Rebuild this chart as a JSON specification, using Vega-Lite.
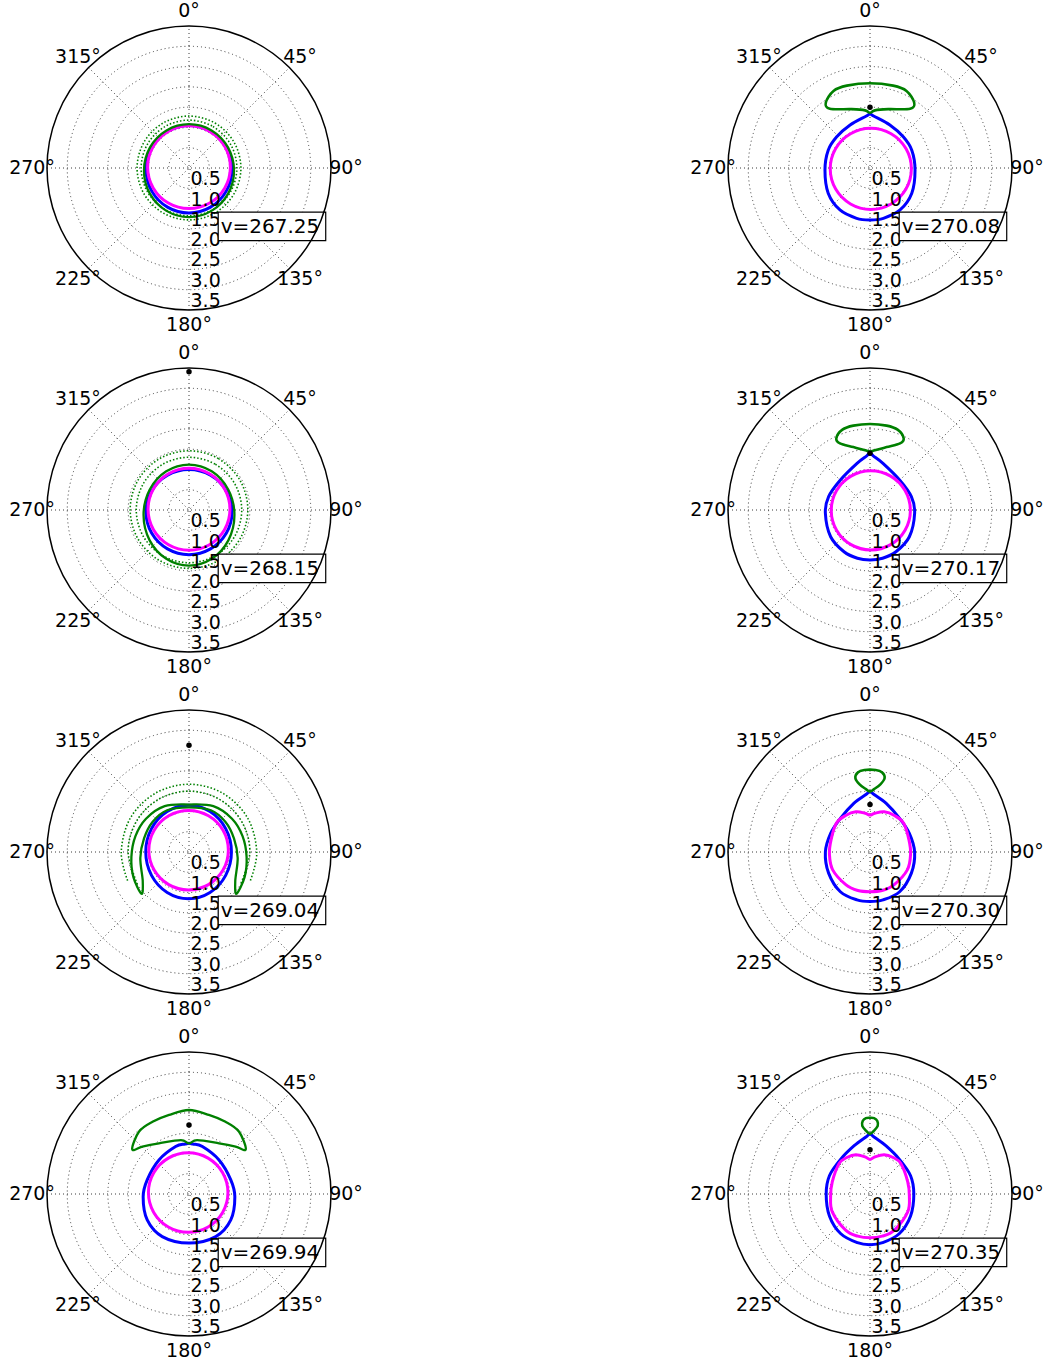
{
"$schema": "https://vega.github.io/schema/vega-lite/v6.json",
"padding": 0,
"background": "white",
"config": {"view": {"stroke": null}, "text": {"font": "DejaVu Sans"}},
"datasets": {
"grid": [{"r":0.5},{"r":1},{"r":1.5},{"r":2},{"r":2.5},{"r":3}],
"outer": [{"r":3.5}],
"spokes": [{"x":0,"y":-3.5,"x2":0,"y2":3.5},{"x":-2.475,"y":-2.475,"x2":2.475,"y2":2.475},{"x":-3.5,"y":0,"x2":3.5,"y2":0},{"x":-2.475,"y":2.475,"x2":2.475,"y2":-2.475}],
"angles": [{"deg":0,"t":"0°"},{"deg":45,"t":"45°"},{"deg":90,"t":"90°"},{"deg":135,"t":"135°"},{"deg":180,"t":"180°"},{"deg":225,"t":"225°"},{"deg":270,"t":"270°"},{"deg":315,"t":"315°"}],
"rlabels": [{"r":0.5,"t":"0.5"},{"r":1,"t":"1.0"},{"r":1.5,"t":"1.5"},{"r":2,"t":"2.0"},{"r":2.5,"t":"2.5"},{"r":3,"t":"3.0"},{"r":3.5,"t":"3.5"}],
"boxes": [{"p":1,"t":"v=267.25"},{"p":2,"t":"v=270.08"},{"p":3,"t":"v=268.15"},{"p":4,"t":"v=270.17"},{"p":5,"t":"v=269.04"},{"p":6,"t":"v=270.30"},{"p":7,"t":"v=269.94"},{"p":8,"t":"v=270.35"}],
"dots": [{"p":2,"x":0,"y":1.5},{"p":3,"x":0,"y":3.41},{"p":4,"x":0,"y":1.4},{"p":5,"x":0,"y":2.63},{"p":6,"x":0,"y":1.17},{"p":7,"x":0,"y":1.7},{"p":8,"x":0,"y":1.09}],
"curves": [
{"p":1,"s":"b","c":"b","i":0,"x":0,"y":1.05},{"p":1,"s":"b","c":"b","i":1,"x":0.53,"y":0.905},{"p":1,"s":"b","c":"b","i":2,"x":0.918,"y":0.51},{"p":1,"s":"b","c":"b","i":3,"x":1.06,"y":-0.03},{"p":1,"s":"b","c":"b","i":4,"x":0.918,"y":-0.57},{"p":1,"s":"b","c":"b","i":5,"x":0.53,"y":-0.965},{"p":1,"s":"b","c":"b","i":6,"x":0,"y":-1.11},{"p":1,"s":"b","c":"b","i":7,"x":-0.53,"y":-0.965},{"p":1,"s":"b","c":"b","i":8,"x":-0.918,"y":-0.57},{"p":1,"s":"b","c":"b","i":9,"x":-1.06,"y":-0.03},{"p":1,"s":"b","c":"b","i":10,"x":-0.918,"y":0.51},{"p":1,"s":"b","c":"b","i":11,"x":-0.53,"y":0.905},
{"p":1,"s":"m","c":"m","i":0,"x":0,"y":1.04},{"p":1,"s":"m","c":"m","i":1,"x":0.51,"y":0.903},{"p":1,"s":"m","c":"m","i":2,"x":0.883,"y":0.53},{"p":1,"s":"m","c":"m","i":3,"x":1.02,"y":0.02},{"p":1,"s":"m","c":"m","i":4,"x":0.883,"y":-0.49},{"p":1,"s":"m","c":"m","i":5,"x":0.51,"y":-0.863},{"p":1,"s":"m","c":"m","i":6,"x":0,"y":-1.0},{"p":1,"s":"m","c":"m","i":7,"x":-0.51,"y":-0.863},{"p":1,"s":"m","c":"m","i":8,"x":-0.883,"y":-0.49},{"p":1,"s":"m","c":"m","i":9,"x":-1.02,"y":0.02},{"p":1,"s":"m","c":"m","i":10,"x":-0.883,"y":0.53},{"p":1,"s":"m","c":"m","i":11,"x":-0.51,"y":0.903},
{"p":1,"s":"g","c":"g","i":0,"x":0,"y":1.08},{"p":1,"s":"g","c":"g","i":1,"x":0.555,"y":0.927},{"p":1,"s":"g","c":"g","i":2,"x":0.961,"y":0.508},{"p":1,"s":"g","c":"g","i":3,"x":1.11,"y":-0.065},{"p":1,"s":"g","c":"g","i":4,"x":0.961,"y":-0.638},{"p":1,"s":"g","c":"g","i":5,"x":0.555,"y":-1.057},{"p":1,"s":"g","c":"g","i":6,"x":0,"y":-1.21},{"p":1,"s":"g","c":"g","i":7,"x":-0.555,"y":-1.057},{"p":1,"s":"g","c":"g","i":8,"x":-0.961,"y":-0.638},{"p":1,"s":"g","c":"g","i":9,"x":-1.11,"y":-0.065},{"p":1,"s":"g","c":"g","i":10,"x":-0.961,"y":0.508},{"p":1,"s":"g","c":"g","i":11,"x":-0.555,"y":0.927},
{"p":1,"s":"d","c":"d1","i":0,"x":0,"y":1.28},{"p":1,"s":"d","c":"d1","i":1,"x":0.64,"y":1.108},{"p":1,"s":"d","c":"d1","i":2,"x":1.108,"y":0.64},{"p":1,"s":"d","c":"d1","i":3,"x":1.28,"y":0},{"p":1,"s":"d","c":"d1","i":4,"x":1.108,"y":-0.64},{"p":1,"s":"d","c":"d1","i":5,"x":0.64,"y":-1.108},{"p":1,"s":"d","c":"d1","i":6,"x":0,"y":-1.28},{"p":1,"s":"d","c":"d1","i":7,"x":-0.64,"y":-1.108},{"p":1,"s":"d","c":"d1","i":8,"x":-1.108,"y":-0.64},{"p":1,"s":"d","c":"d1","i":9,"x":-1.28,"y":0},{"p":1,"s":"d","c":"d1","i":10,"x":-1.108,"y":0.64},{"p":1,"s":"d","c":"d1","i":11,"x":-0.64,"y":1.108},
{"p":1,"s":"d","c":"d2","i":0,"x":0,"y":1.18},{"p":1,"s":"d","c":"d2","i":1,"x":0.59,"y":1.022},{"p":1,"s":"d","c":"d2","i":2,"x":1.022,"y":0.59},{"p":1,"s":"d","c":"d2","i":3,"x":1.18,"y":0},{"p":1,"s":"d","c":"d2","i":4,"x":1.022,"y":-0.59},{"p":1,"s":"d","c":"d2","i":5,"x":0.59,"y":-1.022},{"p":1,"s":"d","c":"d2","i":6,"x":0,"y":-1.18},{"p":1,"s":"d","c":"d2","i":7,"x":-0.59,"y":-1.022},{"p":1,"s":"d","c":"d2","i":8,"x":-1.022,"y":-0.59},{"p":1,"s":"d","c":"d2","i":9,"x":-1.18,"y":0},{"p":1,"s":"d","c":"d2","i":10,"x":-1.022,"y":0.59},{"p":1,"s":"d","c":"d2","i":11,"x":-0.59,"y":1.022},
{"p":2,"s":"b","c":"b","i":0,"x":0,"y":1.33},{"p":2,"s":"b","c":"b","i":1,"x":0.1,"y":1.275},{"p":2,"s":"b","c":"b","i":2,"x":0.49,"y":1.06},{"p":2,"s":"b","c":"b","i":3,"x":0.82,"y":0.77},{"p":2,"s":"b","c":"b","i":4,"x":1.03,"y":0.44},{"p":2,"s":"b","c":"b","i":5,"x":1.11,"y":-0.05},{"p":2,"s":"b","c":"b","i":6,"x":1.03,"y":-0.62},{"p":2,"s":"b","c":"b","i":7,"x":0.74,"y":-1.035},{"p":2,"s":"b","c":"b","i":8,"x":0.33,"y":-1.24},{"p":2,"s":"b","c":"b","i":9,"x":0,"y":-1.28},{"p":2,"s":"b","c":"b","i":10,"x":-0.33,"y":-1.24},{"p":2,"s":"b","c":"b","i":11,"x":-0.74,"y":-1.035},{"p":2,"s":"b","c":"b","i":12,"x":-1.03,"y":-0.62},{"p":2,"s":"b","c":"b","i":13,"x":-1.11,"y":-0.05},{"p":2,"s":"b","c":"b","i":14,"x":-1.03,"y":0.44},{"p":2,"s":"b","c":"b","i":15,"x":-0.82,"y":0.77},{"p":2,"s":"b","c":"b","i":16,"x":-0.49,"y":1.06},{"p":2,"s":"b","c":"b","i":17,"x":-0.1,"y":1.275},
{"p":2,"s":"m","c":"m","i":0,"x":0.02,"y":0.98},{"p":2,"s":"m","c":"m","i":1,"x":0.52,"y":0.846},{"p":2,"s":"m","c":"m","i":2,"x":0.886,"y":0.48},{"p":2,"s":"m","c":"m","i":3,"x":1.02,"y":-0.02},{"p":2,"s":"m","c":"m","i":4,"x":0.886,"y":-0.52},{"p":2,"s":"m","c":"m","i":5,"x":0.52,"y":-0.886},{"p":2,"s":"m","c":"m","i":6,"x":0.02,"y":-1.02},{"p":2,"s":"m","c":"m","i":7,"x":-0.48,"y":-0.886},{"p":2,"s":"m","c":"m","i":8,"x":-0.846,"y":-0.52},{"p":2,"s":"m","c":"m","i":9,"x":-0.98,"y":-0.02},{"p":2,"s":"m","c":"m","i":10,"x":-0.846,"y":0.48},{"p":2,"s":"m","c":"m","i":11,"x":-0.48,"y":0.846},
{"p":2,"s":"g","c":"g","i":0,"x":-1.09,"y":1.61},{"p":2,"s":"g","c":"g","i":1,"x":-0.9,"y":1.9},{"p":2,"s":"g","c":"g","i":2,"x":-0.57,"y":2.03},{"p":2,"s":"g","c":"g","i":3,"x":0,"y":2.09},{"p":2,"s":"g","c":"g","i":4,"x":0.57,"y":2.03},{"p":2,"s":"g","c":"g","i":5,"x":0.9,"y":1.9},{"p":2,"s":"g","c":"g","i":6,"x":1.09,"y":1.61},{"p":2,"s":"g","c":"g","i":7,"x":0.99,"y":1.46},{"p":2,"s":"g","c":"g","i":8,"x":0.45,"y":1.45},{"p":2,"s":"g","c":"g","i":9,"x":0.12,"y":1.42},{"p":2,"s":"g","c":"g","i":10,"x":0,"y":1.36},{"p":2,"s":"g","c":"g","i":11,"x":-0.12,"y":1.42},{"p":2,"s":"g","c":"g","i":12,"x":-0.45,"y":1.45},{"p":2,"s":"g","c":"g","i":13,"x":-0.99,"y":1.46},
{"p":3,"s":"b","c":"b","i":0,"x":0,"y":1.0},{"p":3,"s":"b","c":"b","i":1,"x":0.53,"y":0.859},{"p":3,"s":"b","c":"b","i":2,"x":0.918,"y":0.475},{"p":3,"s":"b","c":"b","i":3,"x":1.06,"y":-0.05},{"p":3,"s":"b","c":"b","i":4,"x":0.918,"y":-0.575},{"p":3,"s":"b","c":"b","i":5,"x":0.53,"y":-0.959},{"p":3,"s":"b","c":"b","i":6,"x":0,"y":-1.1},{"p":3,"s":"b","c":"b","i":7,"x":-0.53,"y":-0.959},{"p":3,"s":"b","c":"b","i":8,"x":-0.918,"y":-0.575},{"p":3,"s":"b","c":"b","i":9,"x":-1.06,"y":-0.05},{"p":3,"s":"b","c":"b","i":10,"x":-0.918,"y":0.475},{"p":3,"s":"b","c":"b","i":11,"x":-0.53,"y":0.859},
{"p":3,"s":"m","c":"m","i":0,"x":0,"y":1.03},{"p":3,"s":"m","c":"m","i":1,"x":0.505,"y":0.895},{"p":3,"s":"m","c":"m","i":2,"x":0.875,"y":0.525},{"p":3,"s":"m","c":"m","i":3,"x":1.01,"y":0.02},{"p":3,"s":"m","c":"m","i":4,"x":0.875,"y":-0.485},{"p":3,"s":"m","c":"m","i":5,"x":0.505,"y":-0.855},{"p":3,"s":"m","c":"m","i":6,"x":0,"y":-0.99},{"p":3,"s":"m","c":"m","i":7,"x":-0.505,"y":-0.855},{"p":3,"s":"m","c":"m","i":8,"x":-0.875,"y":-0.485},{"p":3,"s":"m","c":"m","i":9,"x":-1.01,"y":0.02},{"p":3,"s":"m","c":"m","i":10,"x":-0.875,"y":0.525},{"p":3,"s":"m","c":"m","i":11,"x":-0.505,"y":0.895},
{"p":3,"s":"g","c":"g","i":0,"x":0,"y":1.12},{"p":3,"s":"g","c":"g","i":1,"x":0.56,"y":0.953},{"p":3,"s":"g","c":"g","i":2,"x":0.97,"y":0.498},{"p":3,"s":"g","c":"g","i":3,"x":1.12,"y":-0.125},{"p":3,"s":"g","c":"g","i":4,"x":0.97,"y":-0.748},{"p":3,"s":"g","c":"g","i":5,"x":0.56,"y":-1.203},{"p":3,"s":"g","c":"g","i":6,"x":0,"y":-1.37},{"p":3,"s":"g","c":"g","i":7,"x":-0.56,"y":-1.203},{"p":3,"s":"g","c":"g","i":8,"x":-0.97,"y":-0.748},{"p":3,"s":"g","c":"g","i":9,"x":-1.12,"y":-0.125},{"p":3,"s":"g","c":"g","i":10,"x":-0.97,"y":0.498},{"p":3,"s":"g","c":"g","i":11,"x":-0.56,"y":0.953},
{"p":3,"s":"d","c":"d1","i":0,"x":0,"y":1.46},{"p":3,"s":"d","c":"d1","i":1,"x":0.725,"y":1.266},{"p":3,"s":"d","c":"d1","i":2,"x":1.256,"y":0.735},{"p":3,"s":"d","c":"d1","i":3,"x":1.45,"y":0.01},{"p":3,"s":"d","c":"d1","i":4,"x":1.256,"y":-0.715},{"p":3,"s":"d","c":"d1","i":5,"x":0.725,"y":-1.246},{"p":3,"s":"d","c":"d1","i":6,"x":0,"y":-1.44},{"p":3,"s":"d","c":"d1","i":7,"x":-0.725,"y":-1.246},{"p":3,"s":"d","c":"d1","i":8,"x":-1.256,"y":-0.715},{"p":3,"s":"d","c":"d1","i":9,"x":-1.45,"y":0.01},{"p":3,"s":"d","c":"d1","i":10,"x":-1.256,"y":0.735},{"p":3,"s":"d","c":"d1","i":11,"x":-0.725,"y":1.266},
{"p":3,"s":"d","c":"d2","i":0,"x":0,"y":1.3},{"p":3,"s":"d","c":"d2","i":1,"x":0.65,"y":1.126},{"p":3,"s":"d","c":"d2","i":2,"x":1.126,"y":0.65},{"p":3,"s":"d","c":"d2","i":3,"x":1.3,"y":0},{"p":3,"s":"d","c":"d2","i":4,"x":1.126,"y":-0.65},{"p":3,"s":"d","c":"d2","i":5,"x":0.65,"y":-1.126},{"p":3,"s":"d","c":"d2","i":6,"x":0,"y":-1.3},{"p":3,"s":"d","c":"d2","i":7,"x":-0.65,"y":-1.126},{"p":3,"s":"d","c":"d2","i":8,"x":-1.126,"y":-0.65},{"p":3,"s":"d","c":"d2","i":9,"x":-1.3,"y":0},{"p":3,"s":"d","c":"d2","i":10,"x":-1.126,"y":0.65},{"p":3,"s":"d","c":"d2","i":11,"x":-0.65,"y":1.126},
{"p":4,"s":"b","c":"b","i":0,"x":0,"y":1.4},{"p":4,"s":"b","c":"b","i":1,"x":0.08,"y":1.335},{"p":4,"s":"b","c":"b","i":2,"x":0.32,"y":1.15},{"p":4,"s":"b","c":"b","i":3,"x":0.73,"y":0.74},{"p":4,"s":"b","c":"b","i":4,"x":1.02,"y":0.33},{"p":4,"s":"b","c":"b","i":5,"x":1.1,"y":-0.08},{"p":4,"s":"b","c":"b","i":6,"x":0.97,"y":-0.66},{"p":4,"s":"b","c":"b","i":7,"x":0.64,"y":-1.03},{"p":4,"s":"b","c":"b","i":8,"x":0.31,"y":-1.19},{"p":4,"s":"b","c":"b","i":9,"x":0,"y":-1.23},{"p":4,"s":"b","c":"b","i":10,"x":-0.31,"y":-1.19},{"p":4,"s":"b","c":"b","i":11,"x":-0.64,"y":-1.03},{"p":4,"s":"b","c":"b","i":12,"x":-0.97,"y":-0.66},{"p":4,"s":"b","c":"b","i":13,"x":-1.1,"y":-0.08},{"p":4,"s":"b","c":"b","i":14,"x":-1.02,"y":0.33},{"p":4,"s":"b","c":"b","i":15,"x":-0.73,"y":0.74},{"p":4,"s":"b","c":"b","i":16,"x":-0.32,"y":1.15},{"p":4,"s":"b","c":"b","i":17,"x":-0.08,"y":1.335},
{"p":4,"s":"m","c":"m","i":0,"x":0.02,"y":0.965},{"p":4,"s":"m","c":"m","i":1,"x":0.508,"y":0.834},{"p":4,"s":"m","c":"m","i":2,"x":0.864,"y":0.478},{"p":4,"s":"m","c":"m","i":3,"x":0.995,"y":-0.01},{"p":4,"s":"m","c":"m","i":4,"x":0.864,"y":-0.498},{"p":4,"s":"m","c":"m","i":5,"x":0.508,"y":-0.854},{"p":4,"s":"m","c":"m","i":6,"x":0.02,"y":-0.985},{"p":4,"s":"m","c":"m","i":7,"x":-0.468,"y":-0.854},{"p":4,"s":"m","c":"m","i":8,"x":-0.824,"y":-0.498},{"p":4,"s":"m","c":"m","i":9,"x":-0.955,"y":-0.01},{"p":4,"s":"m","c":"m","i":10,"x":-0.824,"y":0.478},{"p":4,"s":"m","c":"m","i":11,"x":-0.468,"y":0.834},
{"p":4,"s":"g","c":"g","i":0,"x":-0.83,"y":1.77},{"p":4,"s":"g","c":"g","i":1,"x":-0.68,"y":1.98},{"p":4,"s":"g","c":"g","i":2,"x":-0.41,"y":2.08},{"p":4,"s":"g","c":"g","i":3,"x":0,"y":2.12},{"p":4,"s":"g","c":"g","i":4,"x":0.41,"y":2.08},{"p":4,"s":"g","c":"g","i":5,"x":0.68,"y":1.98},{"p":4,"s":"g","c":"g","i":6,"x":0.83,"y":1.77},{"p":4,"s":"g","c":"g","i":7,"x":0.74,"y":1.64},{"p":4,"s":"g","c":"g","i":8,"x":0.41,"y":1.55},{"p":4,"s":"g","c":"g","i":9,"x":0.12,"y":1.47},{"p":4,"s":"g","c":"g","i":10,"x":0,"y":1.44},{"p":4,"s":"g","c":"g","i":11,"x":-0.12,"y":1.47},{"p":4,"s":"g","c":"g","i":12,"x":-0.41,"y":1.55},{"p":4,"s":"g","c":"g","i":13,"x":-0.74,"y":1.64},
{"p":5,"s":"b","c":"b","i":0,"x":-0.01,"y":1.15},{"p":5,"s":"b","c":"b","i":1,"x":0.518,"y":0.996},{"p":5,"s":"b","c":"b","i":2,"x":0.904,"y":0.575},{"p":5,"s":"b","c":"b","i":3,"x":1.046,"y":0},{"p":5,"s":"b","c":"b","i":4,"x":0.904,"y":-0.575},{"p":5,"s":"b","c":"b","i":5,"x":0.518,"y":-0.996},{"p":5,"s":"b","c":"b","i":6,"x":-0.01,"y":-1.15},{"p":5,"s":"b","c":"b","i":7,"x":-0.538,"y":-0.996},{"p":5,"s":"b","c":"b","i":8,"x":-0.924,"y":-0.575},{"p":5,"s":"b","c":"b","i":9,"x":-1.066,"y":0},{"p":5,"s":"b","c":"b","i":10,"x":-0.924,"y":0.575},{"p":5,"s":"b","c":"b","i":11,"x":-0.538,"y":0.996},
{"p":5,"s":"m","c":"m","i":0,"x":-0.01,"y":1.025},{"p":5,"s":"m","c":"m","i":1,"x":0.48,"y":0.894},{"p":5,"s":"m","c":"m","i":2,"x":0.839,"y":0.535},{"p":5,"s":"m","c":"m","i":3,"x":0.97,"y":0.045},{"p":5,"s":"m","c":"m","i":4,"x":0.839,"y":-0.445},{"p":5,"s":"m","c":"m","i":5,"x":0.48,"y":-0.804},{"p":5,"s":"m","c":"m","i":6,"x":-0.01,"y":-0.935},{"p":5,"s":"m","c":"m","i":7,"x":-0.5,"y":-0.804},{"p":5,"s":"m","c":"m","i":8,"x":-0.859,"y":-0.445},{"p":5,"s":"m","c":"m","i":9,"x":-0.99,"y":0.045},{"p":5,"s":"m","c":"m","i":10,"x":-0.859,"y":0.535},{"p":5,"s":"m","c":"m","i":11,"x":-0.5,"y":0.894},
{"p":5,"s":"g","c":"g","i":0,"x":-1.17,"y":-1.03},{"p":5,"s":"g","c":"g","i":1,"x":-1.37,"y":-0.62},{"p":5,"s":"g","c":"g","i":2,"x":-1.42,"y":-0.12},{"p":5,"s":"g","c":"g","i":3,"x":-1.32,"y":0.39},{"p":5,"s":"g","c":"g","i":4,"x":-1.06,"y":0.82},{"p":5,"s":"g","c":"g","i":5,"x":-0.6,"y":1.13},{"p":5,"s":"g","c":"g","i":6,"x":0,"y":1.17},{"p":5,"s":"g","c":"g","i":7,"x":0.6,"y":1.13},{"p":5,"s":"g","c":"g","i":8,"x":1.06,"y":0.82},{"p":5,"s":"g","c":"g","i":9,"x":1.32,"y":0.39},{"p":5,"s":"g","c":"g","i":10,"x":1.42,"y":-0.12},{"p":5,"s":"g","c":"g","i":11,"x":1.37,"y":-0.62},{"p":5,"s":"g","c":"g","i":12,"x":1.17,"y":-1.03},{"p":5,"s":"g","c":"g","i":13,"x":1.14,"y":-0.72},{"p":5,"s":"g","c":"g","i":14,"x":1.2,"y":-0.15},{"p":5,"s":"g","c":"g","i":15,"x":1.11,"y":0.33},{"p":5,"s":"g","c":"g","i":16,"x":0.9,"y":0.74},{"p":5,"s":"g","c":"g","i":17,"x":0.54,"y":1.03},{"p":5,"s":"g","c":"g","i":18,"x":0,"y":1.1},{"p":5,"s":"g","c":"g","i":19,"x":-0.54,"y":1.03},{"p":5,"s":"g","c":"g","i":20,"x":-0.9,"y":0.74},{"p":5,"s":"g","c":"g","i":21,"x":-1.11,"y":0.33},{"p":5,"s":"g","c":"g","i":22,"x":-1.2,"y":-0.15},{"p":5,"s":"g","c":"g","i":23,"x":-1.14,"y":-0.72},
{"p":5,"s":"a","c":"a1","i":0,"x":-1.513,"y":-0.706},{"p":5,"s":"a","c":"a1","i":1,"x":-1.67,"y":0},{"p":5,"s":"a","c":"a1","i":2,"x":-1.446,"y":0.835},{"p":5,"s":"a","c":"a1","i":3,"x":-0.835,"y":1.446},{"p":5,"s":"a","c":"a1","i":4,"x":0,"y":1.67},{"p":5,"s":"a","c":"a1","i":5,"x":0.835,"y":1.446},{"p":5,"s":"a","c":"a1","i":6,"x":1.446,"y":0.835},{"p":5,"s":"a","c":"a1","i":7,"x":1.67,"y":0},{"p":5,"s":"a","c":"a1","i":8,"x":1.513,"y":-0.706},
{"p":5,"s":"a","c":"a2","i":0,"x":-1.272,"y":-0.795},{"p":5,"s":"a","c":"a2","i":1,"x":-1.5,"y":0},{"p":5,"s":"a","c":"a2","i":2,"x":-1.299,"y":0.75},{"p":5,"s":"a","c":"a2","i":3,"x":-0.75,"y":1.299},{"p":5,"s":"a","c":"a2","i":4,"x":0,"y":1.5},{"p":5,"s":"a","c":"a2","i":5,"x":0.75,"y":1.299},{"p":5,"s":"a","c":"a2","i":6,"x":1.299,"y":0.75},{"p":5,"s":"a","c":"a2","i":7,"x":1.5,"y":0},{"p":5,"s":"a","c":"a2","i":8,"x":1.272,"y":-0.795},
{"p":6,"s":"b","c":"b","i":0,"x":0,"y":1.49},{"p":6,"s":"b","c":"b","i":1,"x":0.1,"y":1.417},{"p":6,"s":"b","c":"b","i":2,"x":0.4,"y":1.2},{"p":6,"s":"b","c":"b","i":3,"x":0.73,"y":0.83},{"p":6,"s":"b","c":"b","i":4,"x":0.97,"y":0.46},{"p":6,"s":"b","c":"b","i":5,"x":1.1,"y":0},{"p":6,"s":"b","c":"b","i":6,"x":1.02,"y":-0.52},{"p":6,"s":"b","c":"b","i":7,"x":0.73,"y":-0.98},{"p":6,"s":"b","c":"b","i":8,"x":0.32,"y":-1.18},{"p":6,"s":"b","c":"b","i":9,"x":0,"y":-1.22},{"p":6,"s":"b","c":"b","i":10,"x":-0.32,"y":-1.18},{"p":6,"s":"b","c":"b","i":11,"x":-0.73,"y":-0.98},{"p":6,"s":"b","c":"b","i":12,"x":-1.02,"y":-0.52},{"p":6,"s":"b","c":"b","i":13,"x":-1.1,"y":0},{"p":6,"s":"b","c":"b","i":14,"x":-0.97,"y":0.46},{"p":6,"s":"b","c":"b","i":15,"x":-0.73,"y":0.83},{"p":6,"s":"b","c":"b","i":16,"x":-0.4,"y":1.2},{"p":6,"s":"b","c":"b","i":17,"x":-0.1,"y":1.417},
{"p":6,"s":"m","c":"m","i":0,"x":0,"y":0.91},{"p":6,"s":"m","c":"m","i":1,"x":0.12,"y":0.955},{"p":6,"s":"m","c":"m","i":2,"x":0.35,"y":0.99},{"p":6,"s":"m","c":"m","i":3,"x":0.6,"y":0.9},{"p":6,"s":"m","c":"m","i":4,"x":0.83,"y":0.71},{"p":6,"s":"m","c":"m","i":5,"x":0.96,"y":0.3},{"p":6,"s":"m","c":"m","i":6,"x":1.0,"y":-0.05},{"p":6,"s":"m","c":"m","i":7,"x":0.92,"y":-0.44},{"p":6,"s":"m","c":"m","i":8,"x":0.59,"y":-0.81},{"p":6,"s":"m","c":"m","i":9,"x":0.3,"y":-0.95},{"p":6,"s":"m","c":"m","i":10,"x":0,"y":-0.98},{"p":6,"s":"m","c":"m","i":11,"x":-0.3,"y":-0.95},{"p":6,"s":"m","c":"m","i":12,"x":-0.59,"y":-0.81},{"p":6,"s":"m","c":"m","i":13,"x":-0.92,"y":-0.44},{"p":6,"s":"m","c":"m","i":14,"x":-1.0,"y":-0.05},{"p":6,"s":"m","c":"m","i":15,"x":-0.96,"y":0.3},{"p":6,"s":"m","c":"m","i":16,"x":-0.83,"y":0.71},{"p":6,"s":"m","c":"m","i":17,"x":-0.6,"y":0.9},{"p":6,"s":"m","c":"m","i":18,"x":-0.35,"y":0.99},{"p":6,"s":"m","c":"m","i":19,"x":-0.12,"y":0.955},
{"p":6,"s":"g","c":"g","i":0,"x":0,"y":1.49},{"p":6,"s":"g","c":"g","i":1,"x":0.1,"y":1.55},{"p":6,"s":"g","c":"g","i":2,"x":0.25,"y":1.66},{"p":6,"s":"g","c":"g","i":3,"x":0.36,"y":1.82},{"p":6,"s":"g","c":"g","i":4,"x":0.3,"y":1.96},{"p":6,"s":"g","c":"g","i":5,"x":0.14,"y":2.02},{"p":6,"s":"g","c":"g","i":6,"x":-0.14,"y":2.02},{"p":6,"s":"g","c":"g","i":7,"x":-0.3,"y":1.96},{"p":6,"s":"g","c":"g","i":8,"x":-0.36,"y":1.82},{"p":6,"s":"g","c":"g","i":9,"x":-0.25,"y":1.66},{"p":6,"s":"g","c":"g","i":10,"x":-0.1,"y":1.55},
{"p":7,"s":"b","c":"b","i":0,"x":0,"y":1.25},{"p":7,"s":"b","c":"b","i":1,"x":0.1,"y":1.23},{"p":7,"s":"b","c":"b","i":2,"x":0.33,"y":1.17},{"p":7,"s":"b","c":"b","i":3,"x":0.74,"y":0.84},{"p":7,"s":"b","c":"b","i":4,"x":1.03,"y":0.35},{"p":7,"s":"b","c":"b","i":5,"x":1.13,"y":-0.07},{"p":7,"s":"b","c":"b","i":6,"x":1.03,"y":-0.64},{"p":7,"s":"b","c":"b","i":7,"x":0.66,"y":-1.05},{"p":7,"s":"b","c":"b","i":8,"x":0,"y":-1.21},{"p":7,"s":"b","c":"b","i":9,"x":-0.66,"y":-1.05},{"p":7,"s":"b","c":"b","i":10,"x":-1.03,"y":-0.64},{"p":7,"s":"b","c":"b","i":11,"x":-1.13,"y":-0.07},{"p":7,"s":"b","c":"b","i":12,"x":-1.03,"y":0.35},{"p":7,"s":"b","c":"b","i":13,"x":-0.74,"y":0.84},{"p":7,"s":"b","c":"b","i":14,"x":-0.33,"y":1.17},{"p":7,"s":"b","c":"b","i":15,"x":-0.1,"y":1.23},
{"p":7,"s":"m","c":"m","i":0,"x":-0.02,"y":1.015},{"p":7,"s":"m","c":"m","i":1,"x":0.47,"y":0.884},{"p":7,"s":"m","c":"m","i":2,"x":0.829,"y":0.525},{"p":7,"s":"m","c":"m","i":3,"x":0.96,"y":0.035},{"p":7,"s":"m","c":"m","i":4,"x":0.829,"y":-0.455},{"p":7,"s":"m","c":"m","i":5,"x":0.47,"y":-0.814},{"p":7,"s":"m","c":"m","i":6,"x":-0.02,"y":-0.945},{"p":7,"s":"m","c":"m","i":7,"x":-0.51,"y":-0.814},{"p":7,"s":"m","c":"m","i":8,"x":-0.869,"y":-0.455},{"p":7,"s":"m","c":"m","i":9,"x":-1.0,"y":0.035},{"p":7,"s":"m","c":"m","i":10,"x":-0.869,"y":0.525},{"p":7,"s":"m","c":"m","i":11,"x":-0.51,"y":0.884},
{"p":7,"s":"g","c":"g","i":0,"x":-1.4,"y":1.1},{"p":7,"s":"g","c":"g","i":1,"x":-1.23,"y":1.54},{"p":7,"s":"g","c":"g","i":2,"x":-0.9,"y":1.78},{"p":7,"s":"g","c":"g","i":3,"x":-0.49,"y":1.95},{"p":7,"s":"g","c":"g","i":4,"x":0,"y":2.07},{"p":7,"s":"g","c":"g","i":5,"x":0.49,"y":1.95},{"p":7,"s":"g","c":"g","i":6,"x":0.9,"y":1.78},{"p":7,"s":"g","c":"g","i":7,"x":1.23,"y":1.54},{"p":7,"s":"g","c":"g","i":8,"x":1.4,"y":1.1},{"p":7,"s":"g","c":"g","i":9,"x":1.15,"y":1.17},{"p":7,"s":"g","c":"g","i":10,"x":0.74,"y":1.25},{"p":7,"s":"g","c":"g","i":11,"x":0.2,"y":1.33},{"p":7,"s":"g","c":"g","i":12,"x":0,"y":1.25},{"p":7,"s":"g","c":"g","i":13,"x":-0.2,"y":1.33},{"p":7,"s":"g","c":"g","i":14,"x":-0.74,"y":1.25},{"p":7,"s":"g","c":"g","i":15,"x":-1.15,"y":1.17},
{"p":8,"s":"b","c":"b","i":0,"x":0,"y":1.48},{"p":8,"s":"b","c":"b","i":1,"x":0.1,"y":1.405},{"p":8,"s":"b","c":"b","i":2,"x":0.39,"y":1.19},{"p":8,"s":"b","c":"b","i":3,"x":0.72,"y":0.86},{"p":8,"s":"b","c":"b","i":4,"x":1.0,"y":0.45},{"p":8,"s":"b","c":"b","i":5,"x":1.08,"y":0},{"p":8,"s":"b","c":"b","i":6,"x":1.0,"y":-0.54},{"p":8,"s":"b","c":"b","i":7,"x":0.72,"y":-0.98},{"p":8,"s":"b","c":"b","i":8,"x":0.31,"y":-1.2},{"p":8,"s":"b","c":"b","i":9,"x":0,"y":-1.25},{"p":8,"s":"b","c":"b","i":10,"x":-0.31,"y":-1.2},{"p":8,"s":"b","c":"b","i":11,"x":-0.72,"y":-0.98},{"p":8,"s":"b","c":"b","i":12,"x":-1.0,"y":-0.54},{"p":8,"s":"b","c":"b","i":13,"x":-1.08,"y":0},{"p":8,"s":"b","c":"b","i":14,"x":-1.0,"y":0.45},{"p":8,"s":"b","c":"b","i":15,"x":-0.72,"y":0.86},{"p":8,"s":"b","c":"b","i":16,"x":-0.39,"y":1.19},{"p":8,"s":"b","c":"b","i":17,"x":-0.1,"y":1.405},
{"p":8,"s":"m","c":"m","i":0,"x":0,"y":0.85},{"p":8,"s":"m","c":"m","i":1,"x":0.12,"y":0.915},{"p":8,"s":"m","c":"m","i":2,"x":0.35,"y":0.97},{"p":8,"s":"m","c":"m","i":3,"x":0.57,"y":0.9},{"p":8,"s":"m","c":"m","i":4,"x":0.76,"y":0.75},{"p":8,"s":"m","c":"m","i":5,"x":0.93,"y":0.3},{"p":8,"s":"m","c":"m","i":6,"x":0.97,"y":-0.05},{"p":8,"s":"m","c":"m","i":7,"x":0.93,"y":-0.44},{"p":8,"s":"m","c":"m","i":8,"x":0.6,"y":-0.89},{"p":8,"s":"m","c":"m","i":9,"x":0.3,"y":-1.04},{"p":8,"s":"m","c":"m","i":10,"x":0,"y":-1.08},{"p":8,"s":"m","c":"m","i":11,"x":-0.3,"y":-1.04},{"p":8,"s":"m","c":"m","i":12,"x":-0.6,"y":-0.89},{"p":8,"s":"m","c":"m","i":13,"x":-0.93,"y":-0.44},{"p":8,"s":"m","c":"m","i":14,"x":-0.97,"y":-0.05},{"p":8,"s":"m","c":"m","i":15,"x":-0.93,"y":0.3},{"p":8,"s":"m","c":"m","i":16,"x":-0.76,"y":0.75},{"p":8,"s":"m","c":"m","i":17,"x":-0.57,"y":0.9},{"p":8,"s":"m","c":"m","i":18,"x":-0.35,"y":0.97},{"p":8,"s":"m","c":"m","i":19,"x":-0.12,"y":0.915},
{"p":8,"s":"g","c":"g","i":0,"x":0,"y":1.48},{"p":8,"s":"g","c":"g","i":1,"x":0.1,"y":1.56},{"p":8,"s":"g","c":"g","i":2,"x":0.19,"y":1.68},{"p":8,"s":"g","c":"g","i":3,"x":0.18,"y":1.8},{"p":8,"s":"g","c":"g","i":4,"x":0.1,"y":1.87},{"p":8,"s":"g","c":"g","i":5,"x":0,"y":1.88},{"p":8,"s":"g","c":"g","i":6,"x":-0.1,"y":1.87},{"p":8,"s":"g","c":"g","i":7,"x":-0.18,"y":1.8},{"p":8,"s":"g","c":"g","i":8,"x":-0.19,"y":1.68},{"p":8,"s":"g","c":"g","i":9,"x":-0.1,"y":1.56}
]
},
"vconcat": [
{"hconcat": [
{"width":378,"height":336,"layer":[
{"data":{"name":"grid"},"mark":{"type":"arc","filled":false,"stroke":"#3a3a3a","strokeWidth":1,"strokeDash":[1,3]},"encoding":{"theta":{"value":0},"theta2":{"value":6.2832},"radius":{"field":"r","type":"quantitative","stack":null,"scale":{"type":"linear","domain":[0,3.5],"range":[0,142],"zero":true,"nice":false}}}},
{"data":{"name":"spokes"},"mark":{"type":"rule","color":"#3a3a3a","strokeWidth":1,"strokeDash":[1,3]},"encoding":{"x":{"field":"x","type":"quantitative","scale":{"domain":[-4.6585,4.6585],"nice":false,"zero":false},"axis":null},"y":{"field":"y","type":"quantitative","scale":{"domain":[-4.1409,4.1409],"nice":false,"zero":false},"axis":null},"x2":{"field":"x2"},"y2":{"field":"y2"}}},
{"data":{"name":"curves"},"transform":[{"filter":"datum.p==1 && datum.s=='b'"}],"mark":{"type":"line","interpolate":"cardinal-closed","color":"#0000ff","strokeWidth":3},"encoding":{"x":{"field":"x","type":"quantitative","scale":{"domain":[-4.6585,4.6585],"nice":false,"zero":false},"axis":null},"y":{"field":"y","type":"quantitative","scale":{"domain":[-4.1409,4.1409],"nice":false,"zero":false},"axis":null},"order":{"field":"i","type":"quantitative"},"detail":{"field":"c"}}},
{"data":{"name":"curves"},"transform":[{"filter":"datum.p==1 && datum.s=='m'"}],"mark":{"type":"line","interpolate":"cardinal-closed","color":"#ff00ff","strokeWidth":3},"encoding":{"x":{"field":"x","type":"quantitative","scale":{"domain":[-4.6585,4.6585],"nice":false,"zero":false},"axis":null},"y":{"field":"y","type":"quantitative","scale":{"domain":[-4.1409,4.1409],"nice":false,"zero":false},"axis":null},"order":{"field":"i","type":"quantitative"},"detail":{"field":"c"}}},
{"data":{"name":"curves"},"transform":[{"filter":"datum.p==1 && datum.s=='g'"}],"mark":{"type":"line","interpolate":"cardinal-closed","color":"#008000","strokeWidth":2.3},"encoding":{"x":{"field":"x","type":"quantitative","scale":{"domain":[-4.6585,4.6585],"nice":false,"zero":false},"axis":null},"y":{"field":"y","type":"quantitative","scale":{"domain":[-4.1409,4.1409],"nice":false,"zero":false},"axis":null},"order":{"field":"i","type":"quantitative"},"detail":{"field":"c"}}},
{"data":{"name":"curves"},"transform":[{"filter":"datum.p==1 && datum.s=='d'"}],"mark":{"type":"line","interpolate":"cardinal-closed","color":"#008000","strokeWidth":1.6,"strokeDash":[1.5,2]},"encoding":{"x":{"field":"x","type":"quantitative","scale":{"domain":[-4.6585,4.6585],"nice":false,"zero":false},"axis":null},"y":{"field":"y","type":"quantitative","scale":{"domain":[-4.1409,4.1409],"nice":false,"zero":false},"axis":null},"order":{"field":"i","type":"quantitative"},"detail":{"field":"c"}}},
{"data":{"name":"rlabels"},"mark":{"type":"text","align":"left","baseline":"alphabetic","dx":1.5,"dy":-3,"fontSize":19,"color":"black"},"encoding":{"theta":{"value":3.14159},"radius":{"field":"r","type":"quantitative","stack":null,"scale":{"type":"linear","domain":[0,3.5],"range":[0,142],"zero":true,"nice":false}},"text":{"field":"t"}}},
{"data":{"name":"angles"},"mark":{"type":"text","align":"center","baseline":"middle","fontSize":19,"color":"black"},"encoding":{"theta":{"field":"deg","type":"quantitative","stack":null,"scale":{"domain":[0,360],"range":[0,6.28319]}},"radius":{"value":157},"text":{"field":"t"}}},
{"data":{"name":"boxes"},"transform":[{"filter":"datum.p==1"}],"mark":{"type":"rect","fill":"white","stroke":"black","strokeWidth":1.2},"encoding":{"x":{"datum":0.72,"type":"quantitative","scale":{"domain":[-4.6585,4.6585],"nice":false,"zero":false},"axis":null},"x2":{"datum":3.37},"y":{"datum":-1.09,"type":"quantitative","scale":{"domain":[-4.1409,4.1409],"nice":false,"zero":false},"axis":null},"y2":{"datum":-1.79}}},
{"data":{"name":"boxes"},"transform":[{"filter":"datum.p==1"}],"mark":{"type":"text","align":"left","baseline":"alphabetic","fontSize":20,"color":"black"},"encoding":{"x":{"datum":0.78,"type":"quantitative","scale":{"domain":[-4.6585,4.6585],"nice":false,"zero":false},"axis":null},"y":{"datum":-1.595,"type":"quantitative","scale":{"domain":[-4.1409,4.1409],"nice":false,"zero":false},"axis":null},"text":{"field":"t"}}},
{"data":{"name":"outer"},"mark":{"type":"arc","filled":false,"stroke":"black","strokeWidth":1.5},"encoding":{"theta":{"value":0},"theta2":{"value":6.2832},"radius":{"field":"r","type":"quantitative","stack":null,"scale":{"type":"linear","domain":[0,3.5],"range":[0,142],"zero":true,"nice":false}}}}
]},
{"width":356,"height":336,"layer":[
{"data":{"name":"grid"},"mark":{"type":"arc","filled":false,"stroke":"#3a3a3a","strokeWidth":1,"strokeDash":[1,3]},"encoding":{"theta":{"value":0},"theta2":{"value":6.2832},"radius":{"field":"r","type":"quantitative","stack":null,"scale":{"type":"linear","domain":[0,3.5],"range":[0,142],"zero":true,"nice":false}}}},
{"data":{"name":"spokes"},"mark":{"type":"rule","color":"#3a3a3a","strokeWidth":1,"strokeDash":[1,3]},"encoding":{"x":{"field":"x","type":"quantitative","scale":{"domain":[-4.3874,4.3874],"nice":false,"zero":false},"axis":null},"y":{"field":"y","type":"quantitative","scale":{"domain":[-4.1409,4.1409],"nice":false,"zero":false},"axis":null},"x2":{"field":"x2"},"y2":{"field":"y2"}}},
{"data":{"name":"curves"},"transform":[{"filter":"datum.p==2 && datum.s=='b'"}],"mark":{"type":"line","interpolate":"cardinal-closed","color":"#0000ff","strokeWidth":3},"encoding":{"x":{"field":"x","type":"quantitative","scale":{"domain":[-4.3874,4.3874],"nice":false,"zero":false},"axis":null},"y":{"field":"y","type":"quantitative","scale":{"domain":[-4.1409,4.1409],"nice":false,"zero":false},"axis":null},"order":{"field":"i","type":"quantitative"},"detail":{"field":"c"}}},
{"data":{"name":"curves"},"transform":[{"filter":"datum.p==2 && datum.s=='m'"}],"mark":{"type":"line","interpolate":"cardinal-closed","color":"#ff00ff","strokeWidth":3},"encoding":{"x":{"field":"x","type":"quantitative","scale":{"domain":[-4.3874,4.3874],"nice":false,"zero":false},"axis":null},"y":{"field":"y","type":"quantitative","scale":{"domain":[-4.1409,4.1409],"nice":false,"zero":false},"axis":null},"order":{"field":"i","type":"quantitative"},"detail":{"field":"c"}}},
{"data":{"name":"curves"},"transform":[{"filter":"datum.p==2 && datum.s=='g'"}],"mark":{"type":"line","interpolate":"cardinal-closed","color":"#008000","strokeWidth":2.6},"encoding":{"x":{"field":"x","type":"quantitative","scale":{"domain":[-4.3874,4.3874],"nice":false,"zero":false},"axis":null},"y":{"field":"y","type":"quantitative","scale":{"domain":[-4.1409,4.1409],"nice":false,"zero":false},"axis":null},"order":{"field":"i","type":"quantitative"},"detail":{"field":"c"}}},
{"data":{"name":"dots"},"transform":[{"filter":"datum.p==2"}],"mark":{"type":"point","filled":true,"color":"black","opacity":1,"size":30},"encoding":{"x":{"field":"x","type":"quantitative","scale":{"domain":[-4.3874,4.3874],"nice":false,"zero":false},"axis":null},"y":{"field":"y","type":"quantitative","scale":{"domain":[-4.1409,4.1409],"nice":false,"zero":false},"axis":null}}},
{"data":{"name":"rlabels"},"mark":{"type":"text","align":"left","baseline":"alphabetic","dx":1.5,"dy":-3,"fontSize":19,"color":"black"},"encoding":{"theta":{"value":3.14159},"radius":{"field":"r","type":"quantitative","stack":null,"scale":{"type":"linear","domain":[0,3.5],"range":[0,142],"zero":true,"nice":false}},"text":{"field":"t"}}},
{"data":{"name":"angles"},"mark":{"type":"text","align":"center","baseline":"middle","fontSize":19,"color":"black"},"encoding":{"theta":{"field":"deg","type":"quantitative","stack":null,"scale":{"domain":[0,360],"range":[0,6.28319]}},"radius":{"value":157},"text":{"field":"t"}}},
{"data":{"name":"boxes"},"transform":[{"filter":"datum.p==2"}],"mark":{"type":"rect","fill":"white","stroke":"black","strokeWidth":1.2},"encoding":{"x":{"datum":0.72,"type":"quantitative","scale":{"domain":[-4.3874,4.3874],"nice":false,"zero":false},"axis":null},"x2":{"datum":3.37},"y":{"datum":-1.09,"type":"quantitative","scale":{"domain":[-4.1409,4.1409],"nice":false,"zero":false},"axis":null},"y2":{"datum":-1.79}}},
{"data":{"name":"boxes"},"transform":[{"filter":"datum.p==2"}],"mark":{"type":"text","align":"left","baseline":"alphabetic","fontSize":20,"color":"black"},"encoding":{"x":{"datum":0.78,"type":"quantitative","scale":{"domain":[-4.3874,4.3874],"nice":false,"zero":false},"axis":null},"y":{"datum":-1.595,"type":"quantitative","scale":{"domain":[-4.1409,4.1409],"nice":false,"zero":false},"axis":null},"text":{"field":"t"}}},
{"data":{"name":"outer"},"mark":{"type":"arc","filled":false,"stroke":"black","strokeWidth":1.5},"encoding":{"theta":{"value":0},"theta2":{"value":6.2832},"radius":{"field":"r","type":"quantitative","stack":null,"scale":{"type":"linear","domain":[0,3.5],"range":[0,142],"zero":true,"nice":false}}}}
]}
], "spacing": 314, "bounds": "flush"},
{"hconcat": [
{"width":378,"height":336,"layer":[
{"data":{"name":"grid"},"mark":{"type":"arc","filled":false,"stroke":"#3a3a3a","strokeWidth":1,"strokeDash":[1,3]},"encoding":{"theta":{"value":0},"theta2":{"value":6.2832},"radius":{"field":"r","type":"quantitative","stack":null,"scale":{"type":"linear","domain":[0,3.5],"range":[0,142],"zero":true,"nice":false}}}},
{"data":{"name":"spokes"},"mark":{"type":"rule","color":"#3a3a3a","strokeWidth":1,"strokeDash":[1,3]},"encoding":{"x":{"field":"x","type":"quantitative","scale":{"domain":[-4.6585,4.6585],"nice":false,"zero":false},"axis":null},"y":{"field":"y","type":"quantitative","scale":{"domain":[-4.1409,4.1409],"nice":false,"zero":false},"axis":null},"x2":{"field":"x2"},"y2":{"field":"y2"}}},
{"data":{"name":"curves"},"transform":[{"filter":"datum.p==3 && datum.s=='b'"}],"mark":{"type":"line","interpolate":"cardinal-closed","color":"#0000ff","strokeWidth":3},"encoding":{"x":{"field":"x","type":"quantitative","scale":{"domain":[-4.6585,4.6585],"nice":false,"zero":false},"axis":null},"y":{"field":"y","type":"quantitative","scale":{"domain":[-4.1409,4.1409],"nice":false,"zero":false},"axis":null},"order":{"field":"i","type":"quantitative"},"detail":{"field":"c"}}},
{"data":{"name":"curves"},"transform":[{"filter":"datum.p==3 && datum.s=='m'"}],"mark":{"type":"line","interpolate":"cardinal-closed","color":"#ff00ff","strokeWidth":3},"encoding":{"x":{"field":"x","type":"quantitative","scale":{"domain":[-4.6585,4.6585],"nice":false,"zero":false},"axis":null},"y":{"field":"y","type":"quantitative","scale":{"domain":[-4.1409,4.1409],"nice":false,"zero":false},"axis":null},"order":{"field":"i","type":"quantitative"},"detail":{"field":"c"}}},
{"data":{"name":"curves"},"transform":[{"filter":"datum.p==3 && datum.s=='g'"}],"mark":{"type":"line","interpolate":"cardinal-closed","color":"#008000","strokeWidth":2.3},"encoding":{"x":{"field":"x","type":"quantitative","scale":{"domain":[-4.6585,4.6585],"nice":false,"zero":false},"axis":null},"y":{"field":"y","type":"quantitative","scale":{"domain":[-4.1409,4.1409],"nice":false,"zero":false},"axis":null},"order":{"field":"i","type":"quantitative"},"detail":{"field":"c"}}},
{"data":{"name":"curves"},"transform":[{"filter":"datum.p==3 && datum.s=='d'"}],"mark":{"type":"line","interpolate":"cardinal-closed","color":"#008000","strokeWidth":1.6,"strokeDash":[1.5,2]},"encoding":{"x":{"field":"x","type":"quantitative","scale":{"domain":[-4.6585,4.6585],"nice":false,"zero":false},"axis":null},"y":{"field":"y","type":"quantitative","scale":{"domain":[-4.1409,4.1409],"nice":false,"zero":false},"axis":null},"order":{"field":"i","type":"quantitative"},"detail":{"field":"c"}}},
{"data":{"name":"dots"},"transform":[{"filter":"datum.p==3"}],"mark":{"type":"point","filled":true,"color":"black","opacity":1,"size":30},"encoding":{"x":{"field":"x","type":"quantitative","scale":{"domain":[-4.6585,4.6585],"nice":false,"zero":false},"axis":null},"y":{"field":"y","type":"quantitative","scale":{"domain":[-4.1409,4.1409],"nice":false,"zero":false},"axis":null}}},
{"data":{"name":"rlabels"},"mark":{"type":"text","align":"left","baseline":"alphabetic","dx":1.5,"dy":-3,"fontSize":19,"color":"black"},"encoding":{"theta":{"value":3.14159},"radius":{"field":"r","type":"quantitative","stack":null,"scale":{"type":"linear","domain":[0,3.5],"range":[0,142],"zero":true,"nice":false}},"text":{"field":"t"}}},
{"data":{"name":"angles"},"mark":{"type":"text","align":"center","baseline":"middle","fontSize":19,"color":"black"},"encoding":{"theta":{"field":"deg","type":"quantitative","stack":null,"scale":{"domain":[0,360],"range":[0,6.28319]}},"radius":{"value":157},"text":{"field":"t"}}},
{"data":{"name":"boxes"},"transform":[{"filter":"datum.p==3"}],"mark":{"type":"rect","fill":"white","stroke":"black","strokeWidth":1.2},"encoding":{"x":{"datum":0.72,"type":"quantitative","scale":{"domain":[-4.6585,4.6585],"nice":false,"zero":false},"axis":null},"x2":{"datum":3.37},"y":{"datum":-1.09,"type":"quantitative","scale":{"domain":[-4.1409,4.1409],"nice":false,"zero":false},"axis":null},"y2":{"datum":-1.79}}},
{"data":{"name":"boxes"},"transform":[{"filter":"datum.p==3"}],"mark":{"type":"text","align":"left","baseline":"alphabetic","fontSize":20,"color":"black"},"encoding":{"x":{"datum":0.78,"type":"quantitative","scale":{"domain":[-4.6585,4.6585],"nice":false,"zero":false},"axis":null},"y":{"datum":-1.595,"type":"quantitative","scale":{"domain":[-4.1409,4.1409],"nice":false,"zero":false},"axis":null},"text":{"field":"t"}}},
{"data":{"name":"outer"},"mark":{"type":"arc","filled":false,"stroke":"black","strokeWidth":1.5},"encoding":{"theta":{"value":0},"theta2":{"value":6.2832},"radius":{"field":"r","type":"quantitative","stack":null,"scale":{"type":"linear","domain":[0,3.5],"range":[0,142],"zero":true,"nice":false}}}}
]},
{"width":356,"height":336,"layer":[
{"data":{"name":"grid"},"mark":{"type":"arc","filled":false,"stroke":"#3a3a3a","strokeWidth":1,"strokeDash":[1,3]},"encoding":{"theta":{"value":0},"theta2":{"value":6.2832},"radius":{"field":"r","type":"quantitative","stack":null,"scale":{"type":"linear","domain":[0,3.5],"range":[0,142],"zero":true,"nice":false}}}},
{"data":{"name":"spokes"},"mark":{"type":"rule","color":"#3a3a3a","strokeWidth":1,"strokeDash":[1,3]},"encoding":{"x":{"field":"x","type":"quantitative","scale":{"domain":[-4.3874,4.3874],"nice":false,"zero":false},"axis":null},"y":{"field":"y","type":"quantitative","scale":{"domain":[-4.1409,4.1409],"nice":false,"zero":false},"axis":null},"x2":{"field":"x2"},"y2":{"field":"y2"}}},
{"data":{"name":"curves"},"transform":[{"filter":"datum.p==4 && datum.s=='b'"}],"mark":{"type":"line","interpolate":"cardinal-closed","color":"#0000ff","strokeWidth":3},"encoding":{"x":{"field":"x","type":"quantitative","scale":{"domain":[-4.3874,4.3874],"nice":false,"zero":false},"axis":null},"y":{"field":"y","type":"quantitative","scale":{"domain":[-4.1409,4.1409],"nice":false,"zero":false},"axis":null},"order":{"field":"i","type":"quantitative"},"detail":{"field":"c"}}},
{"data":{"name":"curves"},"transform":[{"filter":"datum.p==4 && datum.s=='m'"}],"mark":{"type":"line","interpolate":"cardinal-closed","color":"#ff00ff","strokeWidth":3},"encoding":{"x":{"field":"x","type":"quantitative","scale":{"domain":[-4.3874,4.3874],"nice":false,"zero":false},"axis":null},"y":{"field":"y","type":"quantitative","scale":{"domain":[-4.1409,4.1409],"nice":false,"zero":false},"axis":null},"order":{"field":"i","type":"quantitative"},"detail":{"field":"c"}}},
{"data":{"name":"curves"},"transform":[{"filter":"datum.p==4 && datum.s=='g'"}],"mark":{"type":"line","interpolate":"cardinal-closed","color":"#008000","strokeWidth":2.6},"encoding":{"x":{"field":"x","type":"quantitative","scale":{"domain":[-4.3874,4.3874],"nice":false,"zero":false},"axis":null},"y":{"field":"y","type":"quantitative","scale":{"domain":[-4.1409,4.1409],"nice":false,"zero":false},"axis":null},"order":{"field":"i","type":"quantitative"},"detail":{"field":"c"}}},
{"data":{"name":"dots"},"transform":[{"filter":"datum.p==4"}],"mark":{"type":"point","filled":true,"color":"black","opacity":1,"size":30},"encoding":{"x":{"field":"x","type":"quantitative","scale":{"domain":[-4.3874,4.3874],"nice":false,"zero":false},"axis":null},"y":{"field":"y","type":"quantitative","scale":{"domain":[-4.1409,4.1409],"nice":false,"zero":false},"axis":null}}},
{"data":{"name":"rlabels"},"mark":{"type":"text","align":"left","baseline":"alphabetic","dx":1.5,"dy":-3,"fontSize":19,"color":"black"},"encoding":{"theta":{"value":3.14159},"radius":{"field":"r","type":"quantitative","stack":null,"scale":{"type":"linear","domain":[0,3.5],"range":[0,142],"zero":true,"nice":false}},"text":{"field":"t"}}},
{"data":{"name":"angles"},"mark":{"type":"text","align":"center","baseline":"middle","fontSize":19,"color":"black"},"encoding":{"theta":{"field":"deg","type":"quantitative","stack":null,"scale":{"domain":[0,360],"range":[0,6.28319]}},"radius":{"value":157},"text":{"field":"t"}}},
{"data":{"name":"boxes"},"transform":[{"filter":"datum.p==4"}],"mark":{"type":"rect","fill":"white","stroke":"black","strokeWidth":1.2},"encoding":{"x":{"datum":0.72,"type":"quantitative","scale":{"domain":[-4.3874,4.3874],"nice":false,"zero":false},"axis":null},"x2":{"datum":3.37},"y":{"datum":-1.09,"type":"quantitative","scale":{"domain":[-4.1409,4.1409],"nice":false,"zero":false},"axis":null},"y2":{"datum":-1.79}}},
{"data":{"name":"boxes"},"transform":[{"filter":"datum.p==4"}],"mark":{"type":"text","align":"left","baseline":"alphabetic","fontSize":20,"color":"black"},"encoding":{"x":{"datum":0.78,"type":"quantitative","scale":{"domain":[-4.3874,4.3874],"nice":false,"zero":false},"axis":null},"y":{"datum":-1.595,"type":"quantitative","scale":{"domain":[-4.1409,4.1409],"nice":false,"zero":false},"axis":null},"text":{"field":"t"}}},
{"data":{"name":"outer"},"mark":{"type":"arc","filled":false,"stroke":"black","strokeWidth":1.5},"encoding":{"theta":{"value":0},"theta2":{"value":6.2832},"radius":{"field":"r","type":"quantitative","stack":null,"scale":{"type":"linear","domain":[0,3.5],"range":[0,142],"zero":true,"nice":false}}}}
]}
], "spacing": 314, "bounds": "flush"},
{"hconcat": [
{"width":378,"height":336,"layer":[
{"data":{"name":"grid"},"mark":{"type":"arc","filled":false,"stroke":"#3a3a3a","strokeWidth":1,"strokeDash":[1,3]},"encoding":{"theta":{"value":0},"theta2":{"value":6.2832},"radius":{"field":"r","type":"quantitative","stack":null,"scale":{"type":"linear","domain":[0,3.5],"range":[0,142],"zero":true,"nice":false}}}},
{"data":{"name":"spokes"},"mark":{"type":"rule","color":"#3a3a3a","strokeWidth":1,"strokeDash":[1,3]},"encoding":{"x":{"field":"x","type":"quantitative","scale":{"domain":[-4.6585,4.6585],"nice":false,"zero":false},"axis":null},"y":{"field":"y","type":"quantitative","scale":{"domain":[-4.1409,4.1409],"nice":false,"zero":false},"axis":null},"x2":{"field":"x2"},"y2":{"field":"y2"}}},
{"data":{"name":"curves"},"transform":[{"filter":"datum.p==5 && datum.s=='b'"}],"mark":{"type":"line","interpolate":"cardinal-closed","color":"#0000ff","strokeWidth":3},"encoding":{"x":{"field":"x","type":"quantitative","scale":{"domain":[-4.6585,4.6585],"nice":false,"zero":false},"axis":null},"y":{"field":"y","type":"quantitative","scale":{"domain":[-4.1409,4.1409],"nice":false,"zero":false},"axis":null},"order":{"field":"i","type":"quantitative"},"detail":{"field":"c"}}},
{"data":{"name":"curves"},"transform":[{"filter":"datum.p==5 && datum.s=='m'"}],"mark":{"type":"line","interpolate":"cardinal-closed","color":"#ff00ff","strokeWidth":3},"encoding":{"x":{"field":"x","type":"quantitative","scale":{"domain":[-4.6585,4.6585],"nice":false,"zero":false},"axis":null},"y":{"field":"y","type":"quantitative","scale":{"domain":[-4.1409,4.1409],"nice":false,"zero":false},"axis":null},"order":{"field":"i","type":"quantitative"},"detail":{"field":"c"}}},
{"data":{"name":"curves"},"transform":[{"filter":"datum.p==5 && datum.s=='g'"}],"mark":{"type":"line","interpolate":"cardinal-closed","color":"#008000","strokeWidth":2.3},"encoding":{"x":{"field":"x","type":"quantitative","scale":{"domain":[-4.6585,4.6585],"nice":false,"zero":false},"axis":null},"y":{"field":"y","type":"quantitative","scale":{"domain":[-4.1409,4.1409],"nice":false,"zero":false},"axis":null},"order":{"field":"i","type":"quantitative"},"detail":{"field":"c"}}},
{"data":{"name":"curves"},"transform":[{"filter":"datum.p==5 && datum.s=='a'"}],"mark":{"type":"line","interpolate":"cardinal","color":"#008000","strokeWidth":1.6,"strokeDash":[1.5,2]},"encoding":{"x":{"field":"x","type":"quantitative","scale":{"domain":[-4.6585,4.6585],"nice":false,"zero":false},"axis":null},"y":{"field":"y","type":"quantitative","scale":{"domain":[-4.1409,4.1409],"nice":false,"zero":false},"axis":null},"order":{"field":"i","type":"quantitative"},"detail":{"field":"c"}}},
{"data":{"name":"dots"},"transform":[{"filter":"datum.p==5"}],"mark":{"type":"point","filled":true,"color":"black","opacity":1,"size":30},"encoding":{"x":{"field":"x","type":"quantitative","scale":{"domain":[-4.6585,4.6585],"nice":false,"zero":false},"axis":null},"y":{"field":"y","type":"quantitative","scale":{"domain":[-4.1409,4.1409],"nice":false,"zero":false},"axis":null}}},
{"data":{"name":"rlabels"},"mark":{"type":"text","align":"left","baseline":"alphabetic","dx":1.5,"dy":-3,"fontSize":19,"color":"black"},"encoding":{"theta":{"value":3.14159},"radius":{"field":"r","type":"quantitative","stack":null,"scale":{"type":"linear","domain":[0,3.5],"range":[0,142],"zero":true,"nice":false}},"text":{"field":"t"}}},
{"data":{"name":"angles"},"mark":{"type":"text","align":"center","baseline":"middle","fontSize":19,"color":"black"},"encoding":{"theta":{"field":"deg","type":"quantitative","stack":null,"scale":{"domain":[0,360],"range":[0,6.28319]}},"radius":{"value":157},"text":{"field":"t"}}},
{"data":{"name":"boxes"},"transform":[{"filter":"datum.p==5"}],"mark":{"type":"rect","fill":"white","stroke":"black","strokeWidth":1.2},"encoding":{"x":{"datum":0.72,"type":"quantitative","scale":{"domain":[-4.6585,4.6585],"nice":false,"zero":false},"axis":null},"x2":{"datum":3.37},"y":{"datum":-1.09,"type":"quantitative","scale":{"domain":[-4.1409,4.1409],"nice":false,"zero":false},"axis":null},"y2":{"datum":-1.79}}},
{"data":{"name":"boxes"},"transform":[{"filter":"datum.p==5"}],"mark":{"type":"text","align":"left","baseline":"alphabetic","fontSize":20,"color":"black"},"encoding":{"x":{"datum":0.78,"type":"quantitative","scale":{"domain":[-4.6585,4.6585],"nice":false,"zero":false},"axis":null},"y":{"datum":-1.595,"type":"quantitative","scale":{"domain":[-4.1409,4.1409],"nice":false,"zero":false},"axis":null},"text":{"field":"t"}}},
{"data":{"name":"outer"},"mark":{"type":"arc","filled":false,"stroke":"black","strokeWidth":1.5},"encoding":{"theta":{"value":0},"theta2":{"value":6.2832},"radius":{"field":"r","type":"quantitative","stack":null,"scale":{"type":"linear","domain":[0,3.5],"range":[0,142],"zero":true,"nice":false}}}}
]},
{"width":356,"height":336,"layer":[
{"data":{"name":"grid"},"mark":{"type":"arc","filled":false,"stroke":"#3a3a3a","strokeWidth":1,"strokeDash":[1,3]},"encoding":{"theta":{"value":0},"theta2":{"value":6.2832},"radius":{"field":"r","type":"quantitative","stack":null,"scale":{"type":"linear","domain":[0,3.5],"range":[0,142],"zero":true,"nice":false}}}},
{"data":{"name":"spokes"},"mark":{"type":"rule","color":"#3a3a3a","strokeWidth":1,"strokeDash":[1,3]},"encoding":{"x":{"field":"x","type":"quantitative","scale":{"domain":[-4.3874,4.3874],"nice":false,"zero":false},"axis":null},"y":{"field":"y","type":"quantitative","scale":{"domain":[-4.1409,4.1409],"nice":false,"zero":false},"axis":null},"x2":{"field":"x2"},"y2":{"field":"y2"}}},
{"data":{"name":"curves"},"transform":[{"filter":"datum.p==6 && datum.s=='b'"}],"mark":{"type":"line","interpolate":"cardinal-closed","color":"#0000ff","strokeWidth":3},"encoding":{"x":{"field":"x","type":"quantitative","scale":{"domain":[-4.3874,4.3874],"nice":false,"zero":false},"axis":null},"y":{"field":"y","type":"quantitative","scale":{"domain":[-4.1409,4.1409],"nice":false,"zero":false},"axis":null},"order":{"field":"i","type":"quantitative"},"detail":{"field":"c"}}},
{"data":{"name":"curves"},"transform":[{"filter":"datum.p==6 && datum.s=='m'"}],"mark":{"type":"line","interpolate":"cardinal-closed","color":"#ff00ff","strokeWidth":3},"encoding":{"x":{"field":"x","type":"quantitative","scale":{"domain":[-4.3874,4.3874],"nice":false,"zero":false},"axis":null},"y":{"field":"y","type":"quantitative","scale":{"domain":[-4.1409,4.1409],"nice":false,"zero":false},"axis":null},"order":{"field":"i","type":"quantitative"},"detail":{"field":"c"}}},
{"data":{"name":"curves"},"transform":[{"filter":"datum.p==6 && datum.s=='g'"}],"mark":{"type":"line","interpolate":"cardinal-closed","color":"#008000","strokeWidth":2.6},"encoding":{"x":{"field":"x","type":"quantitative","scale":{"domain":[-4.3874,4.3874],"nice":false,"zero":false},"axis":null},"y":{"field":"y","type":"quantitative","scale":{"domain":[-4.1409,4.1409],"nice":false,"zero":false},"axis":null},"order":{"field":"i","type":"quantitative"},"detail":{"field":"c"}}},
{"data":{"name":"dots"},"transform":[{"filter":"datum.p==6"}],"mark":{"type":"point","filled":true,"color":"black","opacity":1,"size":30},"encoding":{"x":{"field":"x","type":"quantitative","scale":{"domain":[-4.3874,4.3874],"nice":false,"zero":false},"axis":null},"y":{"field":"y","type":"quantitative","scale":{"domain":[-4.1409,4.1409],"nice":false,"zero":false},"axis":null}}},
{"data":{"name":"rlabels"},"mark":{"type":"text","align":"left","baseline":"alphabetic","dx":1.5,"dy":-3,"fontSize":19,"color":"black"},"encoding":{"theta":{"value":3.14159},"radius":{"field":"r","type":"quantitative","stack":null,"scale":{"type":"linear","domain":[0,3.5],"range":[0,142],"zero":true,"nice":false}},"text":{"field":"t"}}},
{"data":{"name":"angles"},"mark":{"type":"text","align":"center","baseline":"middle","fontSize":19,"color":"black"},"encoding":{"theta":{"field":"deg","type":"quantitative","stack":null,"scale":{"domain":[0,360],"range":[0,6.28319]}},"radius":{"value":157},"text":{"field":"t"}}},
{"data":{"name":"boxes"},"transform":[{"filter":"datum.p==6"}],"mark":{"type":"rect","fill":"white","stroke":"black","strokeWidth":1.2},"encoding":{"x":{"datum":0.72,"type":"quantitative","scale":{"domain":[-4.3874,4.3874],"nice":false,"zero":false},"axis":null},"x2":{"datum":3.37},"y":{"datum":-1.09,"type":"quantitative","scale":{"domain":[-4.1409,4.1409],"nice":false,"zero":false},"axis":null},"y2":{"datum":-1.79}}},
{"data":{"name":"boxes"},"transform":[{"filter":"datum.p==6"}],"mark":{"type":"text","align":"left","baseline":"alphabetic","fontSize":20,"color":"black"},"encoding":{"x":{"datum":0.78,"type":"quantitative","scale":{"domain":[-4.3874,4.3874],"nice":false,"zero":false},"axis":null},"y":{"datum":-1.595,"type":"quantitative","scale":{"domain":[-4.1409,4.1409],"nice":false,"zero":false},"axis":null},"text":{"field":"t"}}},
{"data":{"name":"outer"},"mark":{"type":"arc","filled":false,"stroke":"black","strokeWidth":1.5},"encoding":{"theta":{"value":0},"theta2":{"value":6.2832},"radius":{"field":"r","type":"quantitative","stack":null,"scale":{"type":"linear","domain":[0,3.5],"range":[0,142],"zero":true,"nice":false}}}}
]}
], "spacing": 314, "bounds": "flush"},
{"hconcat": [
{"width":378,"height":336,"layer":[
{"data":{"name":"grid"},"mark":{"type":"arc","filled":false,"stroke":"#3a3a3a","strokeWidth":1,"strokeDash":[1,3]},"encoding":{"theta":{"value":0},"theta2":{"value":6.2832},"radius":{"field":"r","type":"quantitative","stack":null,"scale":{"type":"linear","domain":[0,3.5],"range":[0,142],"zero":true,"nice":false}}}},
{"data":{"name":"spokes"},"mark":{"type":"rule","color":"#3a3a3a","strokeWidth":1,"strokeDash":[1,3]},"encoding":{"x":{"field":"x","type":"quantitative","scale":{"domain":[-4.6585,4.6585],"nice":false,"zero":false},"axis":null},"y":{"field":"y","type":"quantitative","scale":{"domain":[-4.1409,4.1409],"nice":false,"zero":false},"axis":null},"x2":{"field":"x2"},"y2":{"field":"y2"}}},
{"data":{"name":"curves"},"transform":[{"filter":"datum.p==7 && datum.s=='b'"}],"mark":{"type":"line","interpolate":"cardinal-closed","color":"#0000ff","strokeWidth":3},"encoding":{"x":{"field":"x","type":"quantitative","scale":{"domain":[-4.6585,4.6585],"nice":false,"zero":false},"axis":null},"y":{"field":"y","type":"quantitative","scale":{"domain":[-4.1409,4.1409],"nice":false,"zero":false},"axis":null},"order":{"field":"i","type":"quantitative"},"detail":{"field":"c"}}},
{"data":{"name":"curves"},"transform":[{"filter":"datum.p==7 && datum.s=='m'"}],"mark":{"type":"line","interpolate":"cardinal-closed","color":"#ff00ff","strokeWidth":3},"encoding":{"x":{"field":"x","type":"quantitative","scale":{"domain":[-4.6585,4.6585],"nice":false,"zero":false},"axis":null},"y":{"field":"y","type":"quantitative","scale":{"domain":[-4.1409,4.1409],"nice":false,"zero":false},"axis":null},"order":{"field":"i","type":"quantitative"},"detail":{"field":"c"}}},
{"data":{"name":"curves"},"transform":[{"filter":"datum.p==7 && datum.s=='g'"}],"mark":{"type":"line","interpolate":"cardinal-closed","color":"#008000","strokeWidth":2.3},"encoding":{"x":{"field":"x","type":"quantitative","scale":{"domain":[-4.6585,4.6585],"nice":false,"zero":false},"axis":null},"y":{"field":"y","type":"quantitative","scale":{"domain":[-4.1409,4.1409],"nice":false,"zero":false},"axis":null},"order":{"field":"i","type":"quantitative"},"detail":{"field":"c"}}},
{"data":{"name":"dots"},"transform":[{"filter":"datum.p==7"}],"mark":{"type":"point","filled":true,"color":"black","opacity":1,"size":30},"encoding":{"x":{"field":"x","type":"quantitative","scale":{"domain":[-4.6585,4.6585],"nice":false,"zero":false},"axis":null},"y":{"field":"y","type":"quantitative","scale":{"domain":[-4.1409,4.1409],"nice":false,"zero":false},"axis":null}}},
{"data":{"name":"rlabels"},"mark":{"type":"text","align":"left","baseline":"alphabetic","dx":1.5,"dy":-3,"fontSize":19,"color":"black"},"encoding":{"theta":{"value":3.14159},"radius":{"field":"r","type":"quantitative","stack":null,"scale":{"type":"linear","domain":[0,3.5],"range":[0,142],"zero":true,"nice":false}},"text":{"field":"t"}}},
{"data":{"name":"angles"},"mark":{"type":"text","align":"center","baseline":"middle","fontSize":19,"color":"black"},"encoding":{"theta":{"field":"deg","type":"quantitative","stack":null,"scale":{"domain":[0,360],"range":[0,6.28319]}},"radius":{"value":157},"text":{"field":"t"}}},
{"data":{"name":"boxes"},"transform":[{"filter":"datum.p==7"}],"mark":{"type":"rect","fill":"white","stroke":"black","strokeWidth":1.2},"encoding":{"x":{"datum":0.72,"type":"quantitative","scale":{"domain":[-4.6585,4.6585],"nice":false,"zero":false},"axis":null},"x2":{"datum":3.37},"y":{"datum":-1.09,"type":"quantitative","scale":{"domain":[-4.1409,4.1409],"nice":false,"zero":false},"axis":null},"y2":{"datum":-1.79}}},
{"data":{"name":"boxes"},"transform":[{"filter":"datum.p==7"}],"mark":{"type":"text","align":"left","baseline":"alphabetic","fontSize":20,"color":"black"},"encoding":{"x":{"datum":0.78,"type":"quantitative","scale":{"domain":[-4.6585,4.6585],"nice":false,"zero":false},"axis":null},"y":{"datum":-1.595,"type":"quantitative","scale":{"domain":[-4.1409,4.1409],"nice":false,"zero":false},"axis":null},"text":{"field":"t"}}},
{"data":{"name":"outer"},"mark":{"type":"arc","filled":false,"stroke":"black","strokeWidth":1.5},"encoding":{"theta":{"value":0},"theta2":{"value":6.2832},"radius":{"field":"r","type":"quantitative","stack":null,"scale":{"type":"linear","domain":[0,3.5],"range":[0,142],"zero":true,"nice":false}}}}
]},
{"width":356,"height":336,"layer":[
{"data":{"name":"grid"},"mark":{"type":"arc","filled":false,"stroke":"#3a3a3a","strokeWidth":1,"strokeDash":[1,3]},"encoding":{"theta":{"value":0},"theta2":{"value":6.2832},"radius":{"field":"r","type":"quantitative","stack":null,"scale":{"type":"linear","domain":[0,3.5],"range":[0,142],"zero":true,"nice":false}}}},
{"data":{"name":"spokes"},"mark":{"type":"rule","color":"#3a3a3a","strokeWidth":1,"strokeDash":[1,3]},"encoding":{"x":{"field":"x","type":"quantitative","scale":{"domain":[-4.3874,4.3874],"nice":false,"zero":false},"axis":null},"y":{"field":"y","type":"quantitative","scale":{"domain":[-4.1409,4.1409],"nice":false,"zero":false},"axis":null},"x2":{"field":"x2"},"y2":{"field":"y2"}}},
{"data":{"name":"curves"},"transform":[{"filter":"datum.p==8 && datum.s=='b'"}],"mark":{"type":"line","interpolate":"cardinal-closed","color":"#0000ff","strokeWidth":3},"encoding":{"x":{"field":"x","type":"quantitative","scale":{"domain":[-4.3874,4.3874],"nice":false,"zero":false},"axis":null},"y":{"field":"y","type":"quantitative","scale":{"domain":[-4.1409,4.1409],"nice":false,"zero":false},"axis":null},"order":{"field":"i","type":"quantitative"},"detail":{"field":"c"}}},
{"data":{"name":"curves"},"transform":[{"filter":"datum.p==8 && datum.s=='m'"}],"mark":{"type":"line","interpolate":"cardinal-closed","color":"#ff00ff","strokeWidth":3},"encoding":{"x":{"field":"x","type":"quantitative","scale":{"domain":[-4.3874,4.3874],"nice":false,"zero":false},"axis":null},"y":{"field":"y","type":"quantitative","scale":{"domain":[-4.1409,4.1409],"nice":false,"zero":false},"axis":null},"order":{"field":"i","type":"quantitative"},"detail":{"field":"c"}}},
{"data":{"name":"curves"},"transform":[{"filter":"datum.p==8 && datum.s=='g'"}],"mark":{"type":"line","interpolate":"cardinal-closed","color":"#008000","strokeWidth":2.6},"encoding":{"x":{"field":"x","type":"quantitative","scale":{"domain":[-4.3874,4.3874],"nice":false,"zero":false},"axis":null},"y":{"field":"y","type":"quantitative","scale":{"domain":[-4.1409,4.1409],"nice":false,"zero":false},"axis":null},"order":{"field":"i","type":"quantitative"},"detail":{"field":"c"}}},
{"data":{"name":"dots"},"transform":[{"filter":"datum.p==8"}],"mark":{"type":"point","filled":true,"color":"black","opacity":1,"size":30},"encoding":{"x":{"field":"x","type":"quantitative","scale":{"domain":[-4.3874,4.3874],"nice":false,"zero":false},"axis":null},"y":{"field":"y","type":"quantitative","scale":{"domain":[-4.1409,4.1409],"nice":false,"zero":false},"axis":null}}},
{"data":{"name":"rlabels"},"mark":{"type":"text","align":"left","baseline":"alphabetic","dx":1.5,"dy":-3,"fontSize":19,"color":"black"},"encoding":{"theta":{"value":3.14159},"radius":{"field":"r","type":"quantitative","stack":null,"scale":{"type":"linear","domain":[0,3.5],"range":[0,142],"zero":true,"nice":false}},"text":{"field":"t"}}},
{"data":{"name":"angles"},"mark":{"type":"text","align":"center","baseline":"middle","fontSize":19,"color":"black"},"encoding":{"theta":{"field":"deg","type":"quantitative","stack":null,"scale":{"domain":[0,360],"range":[0,6.28319]}},"radius":{"value":157},"text":{"field":"t"}}},
{"data":{"name":"boxes"},"transform":[{"filter":"datum.p==8"}],"mark":{"type":"rect","fill":"white","stroke":"black","strokeWidth":1.2},"encoding":{"x":{"datum":0.72,"type":"quantitative","scale":{"domain":[-4.3874,4.3874],"nice":false,"zero":false},"axis":null},"x2":{"datum":3.37},"y":{"datum":-1.09,"type":"quantitative","scale":{"domain":[-4.1409,4.1409],"nice":false,"zero":false},"axis":null},"y2":{"datum":-1.79}}},
{"data":{"name":"boxes"},"transform":[{"filter":"datum.p==8"}],"mark":{"type":"text","align":"left","baseline":"alphabetic","fontSize":20,"color":"black"},"encoding":{"x":{"datum":0.78,"type":"quantitative","scale":{"domain":[-4.3874,4.3874],"nice":false,"zero":false},"axis":null},"y":{"datum":-1.595,"type":"quantitative","scale":{"domain":[-4.1409,4.1409],"nice":false,"zero":false},"axis":null},"text":{"field":"t"}}},
{"data":{"name":"outer"},"mark":{"type":"arc","filled":false,"stroke":"black","strokeWidth":1.5},"encoding":{"theta":{"value":0},"theta2":{"value":6.2832},"radius":{"field":"r","type":"quantitative","stack":null,"scale":{"type":"linear","domain":[0,3.5],"range":[0,142],"zero":true,"nice":false}}}}
]}
], "spacing": 314, "bounds": "flush"}
], "spacing": 6
}
